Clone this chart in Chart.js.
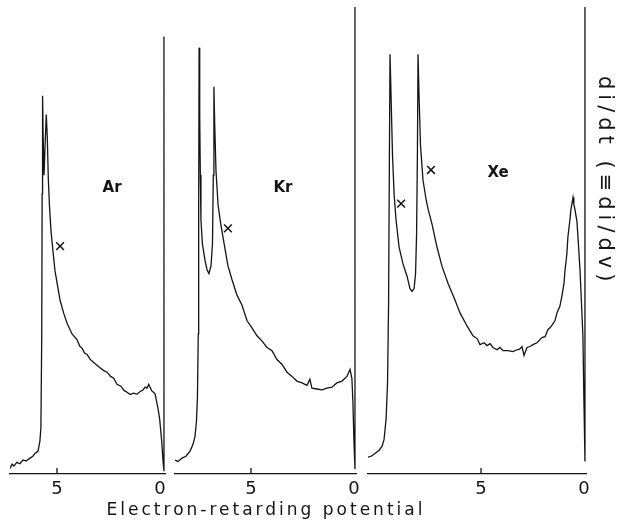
<!DOCTYPE html>
<html>
<head>
<meta charset="utf-8">
<script src="https://cdn.jsdelivr.net/npm/chart.js@4.4.1/dist/chart.umd.min.js"></script>
<style>
  body { margin: 0; background: #fff; }
  #wrap { position: relative; width: 617px; height: 522px; }
  #wrap canvas { position: absolute; left: 0; top: 0; }
  #ylabel { position: absolute; left: 594px; top: 76px; writing-mode: vertical-rl;
            font: 21px "DejaVu Sans"; letter-spacing: 5px; color: #141414; white-space: nowrap; }
  #xlabel { position: absolute; left: 0; width: 532px; top: 499px; text-align: center;
            font: 17px/20px "DejaVu Sans"; letter-spacing: 3px; color: #141414; white-space: nowrap; }
</style>
</head>
<body>
<div id="wrap">
  <canvas id="arChart" width="617" height="522"></canvas>
  <canvas id="krChart" width="617" height="522"></canvas>
  <canvas id="xeChart" width="617" height="522"></canvas>
  <div id="xlabel">Electron-retarding potential</div>
  <div id="ylabel">di/dt (≡di/dv)</div>
</div>
<script>
// tick labels on each potential axis
var tickValues = [5, 0]

// Ar trace (retarding potential, signal in arbitrary units)
var arPotential = [7.28, 7.18, 7.09, 6.95, 6.80, 6.65, 6.50, 6.31, 6.17, 6.07, 5.92, 5.83, 5.78, 5.74, 5.72,
    5.70, 5.67, 5.63, 5.58, 5.52, 5.47, 5.42, 5.36, 5.29, 5.19, 5.10, 4.98, 4.85, 4.68, 4.51, 4.27, 4.03,
    3.90, 3.78, 3.66, 3.54, 3.40, 3.30, 3.15, 3.06, 2.90, 2.75, 2.57, 2.40, 2.25, 2.09, 1.90, 1.75, 1.60,
    1.45, 1.30, 1.12, 0.98, 0.83, 0.72, 0.63, 0.55, 0.49, 0.40, 0.32, 0.24, 0.16, 0.08, 0.02, -0.08,
    -0.15, -0.19, -0.19]
var arSignal = [1.2, 2.1, 1.7, 2.5, 2.2, 3.0, 2.8, 3.4, 3.8, 4.4, 4.9, 7.0, 10.0, 30.0, 60.0,
    81.0, 72.0, 64.0, 70.0, 77.0, 72.0, 63.0, 57.0, 52.0, 47.5, 43.6, 40.5, 37.2, 34.5, 32.3, 30.0, 28.8,
    27.4, 26.9, 25.9, 25.6, 24.6, 24.2, 23.6, 23.3, 22.7, 22.2, 21.8, 20.9, 20.5, 19.2, 18.8, 17.9, 17.5,
    17.0, 17.3, 17.1, 17.6, 18.0, 18.6, 18.4, 19.2, 18.6, 17.8, 17.5, 17.1, 15.4, 13.5, 11.8, 7.0,
    2.5, 0.6, 93.7]

// Kr trace
var krPotential = [8.69, 8.54, 8.35, 8.16, 7.96, 7.82, 7.72, 7.65, 7.60, 7.56, 7.54, 7.52, 7.49, 7.46,
    7.43, 7.36, 7.23, 7.14, 7.04, 6.94, 6.87, 6.83, 6.80, 6.76, 6.70, 6.60, 6.48, 6.36, 6.12, 5.92, 5.68,
    5.44, 5.19, 4.95, 4.71, 4.47, 4.22, 3.98, 3.74, 3.50, 3.25, 3.01, 2.77, 2.52, 2.28, 2.14, 2.04, 1.80,
    1.55, 1.31, 1.07, 0.83, 0.58, 0.34, 0.19, 0.10, 0.05, 0.00, -0.05, -0.05]
var krSignal = [3.0, 2.7, 3.4, 3.8, 4.9, 6.3, 8.0, 11.2, 16.5, 30.0, 58.0, 91.3, 76.7, 64.0,
    54.5, 49.3, 45.7, 43.8, 42.9, 44.6, 49.3, 64.0, 82.9, 74.6, 65.0, 57.7, 53.9, 50.7, 44.6, 41.6, 38.3,
    36.2, 32.8, 31.3, 29.6, 28.5, 27.1, 26.4, 24.5, 23.5, 21.8, 20.9, 19.9, 19.5, 19.0, 20.3, 18.4, 18.2,
    18.0, 18.4, 18.6, 19.5, 19.9, 20.9, 22.4, 20.5, 15.4, 7.0, 1.0, 100]

// Xe trace
var xePotential = [10.49, 10.34, 10.15, 9.95, 9.81, 9.71, 9.61, 9.54, 9.49, 9.45, 9.42, 9.37, 9.30, 9.22,
    9.13, 8.98, 8.79, 8.59, 8.45, 8.35, 8.25, 8.18, 8.13, 8.09, 8.06, 8.01, 7.94, 7.82, 7.67, 7.57, 7.38,
    7.14, 6.89, 6.60, 6.26, 6.02, 5.68, 5.39, 5.19, 5.05, 4.85, 4.71, 4.56, 4.42, 4.22, 4.08, 3.93, 3.69,
    3.45, 3.25, 3.11, 3.01, 2.91, 2.77, 2.62, 2.48, 2.28, 2.04, 1.89, 1.75, 1.65, 1.55, 1.41, 1.31, 1.17,
    1.07, 0.97, 0.92, 0.83, 0.78, 0.68, 0.63, 0.53, 0.49, 0.44, 0.34, 0.27, 0.19, 0.12, 0.05, 0.00,
    -0.05, -0.05]
var xeSignal = [3.6, 3.8, 4.4, 5.1, 5.9, 7.4, 11.8, 19.7, 36.6, 68.3, 89.9, 81.0, 68.3, 59.8,
    54.5, 48.6, 45.0, 42.3, 39.7, 39.1, 39.7, 42.9, 51.4, 68.3, 89.9, 81.0, 70.4, 63.0, 58.8, 56.7, 53.5,
    48.6, 44.4, 40.8, 37.2, 34.5, 31.7, 29.6, 29.0, 27.7, 28.1, 27.5, 27.9, 27.1, 26.6, 27.1, 26.4, 26.4,
    26.2, 26.6, 26.8, 27.3, 25.4, 27.1, 27.3, 27.7, 28.1, 29.2, 29.4, 30.9, 31.3, 31.9, 32.8, 34.5, 35.9,
    38.1, 40.8, 43.6, 47.1, 50.7, 54.5, 56.7, 59.2, 57.7, 56.7, 54.1, 49.3, 43.6, 36.6, 29.6, 15.4,
    2.7, 100]

// the x marks drawn on each trace
var arCrossPotential = [4.85]
var arCrossSignal = [48.8]
var krCrossPotential = [6.12]
var krCrossSignal = [52.6]
var xeCrossPotential = [8.88, 7.43]
var xeCrossSignal = [57.9, 65.1]

// gas names and where they sit
var gasNames = ["Ar", "Kr", "Xe"]
var namePotential = [2.33, 3.45, 4.17]
var nameSignal = [61.3, 61.3, 64.5]

var ink = '#141414'

function toPoints(xs, ys) {
    return xs.map(function (x, i) { return { x: x, y: ys[i] } })
}

// gas name inside each panel, placed through the scales
var gasLabelPlugin = {
    id: 'gasLabel',
    afterDatasetsDraw: function (chart, args, opts) {
        var ctx = chart.ctx
        var px = chart.scales.x.getPixelForValue(opts.x)
        var py = chart.scales.y.getPixelForValue(opts.y)
        ctx.save()
        ctx.font = 'bold 15px "DejaVu Sans"'
        ctx.fillStyle = ink
        ctx.textAlign = 'center'
        ctx.textBaseline = 'middle'
        ctx.fillText(opts.text, px, py)
        ctx.restore()
    }
}

// short upward tick at the "5" mark
var innerTickPlugin = {
    id: 'innerTick',
    afterDraw: function (chart) {
        var ctx = chart.ctx
        var sx = chart.scales.x.getPixelForValue(tickValues[0])
        var base = chart.chartArea.bottom
        ctx.save()
        ctx.strokeStyle = ink
        ctx.lineWidth = 1.3
        ctx.beginPath()
        ctx.moveTo(sx, base)
        ctx.lineTo(sx, base - 6)
        ctx.stroke()
        ctx.restore()
    }
}

function makePanel(canvasId, n, potential, signal, crossX, crossY, xMin, xMax, padLeft, padRight) {
    new Chart(canvasId, {
        type: 'scatter',
        data: {
            datasets: [{
                data: toPoints(potential, signal),
                showLine: true,
                borderColor: ink,
                borderWidth: 1.3,
                pointRadius: 0,
                tension: 0
            }, {
                data: toPoints(crossX, crossY),
                pointStyle: 'crossRot',
                pointRadius: 5.5,
                borderColor: ink,
                borderWidth: 1.5,
                showLine: false
            }]
        },
        options: {
            responsive: false,
            animation: false,
            events: [],
            layout: { padding: { left: padLeft, right: padRight, top: 0, bottom: 10.4 } },
            scales: {
                x: {
                    type: 'linear',
                    min: xMin,
                    max: xMax,
                    reverse: true,
                    border: { display: true, color: ink, width: 1.3 },
                    grid: {
                        display: true,
                        drawOnChartArea: false,
                        drawTicks: true,
                        tickLength: -6,
                        color: 'rgba(0,0,0,0)'
                    },
                    afterBuildTicks: function (axis) {
                        axis.ticks = tickValues.map(function (v) { return { value: v } })
                    },
                    ticks: { color: ink, padding: 11, font: { family: 'DejaVu Sans', size: 18 } }
                },
                y: { display: false, min: 0, max: 100 }
            },
            plugins: {
                legend: { display: false },
                tooltip: { enabled: false },
                gasLabel: { text: gasNames[n], x: namePotential[n], y: nameSignal[n] }
            }
        },
        plugins: [gasLabelPlugin, innerTickPlugin]
    })
}

makePanel('arChart', 0, arPotential, arSignal, arCrossPotential, arCrossSignal, -0.24, 7.28, 10, 452)
makePanel('krChart', 1, krPotential, krSignal, krCrossPotential, krCrossSignal, -0.10, 8.69, 175, 261)
makePanel('xeChart', 2, xePotential, xeSignal, xeCrossPotential, xeCrossSignal, -0.10, 10.49, 368, 31)
</script>
</body>
</html>
